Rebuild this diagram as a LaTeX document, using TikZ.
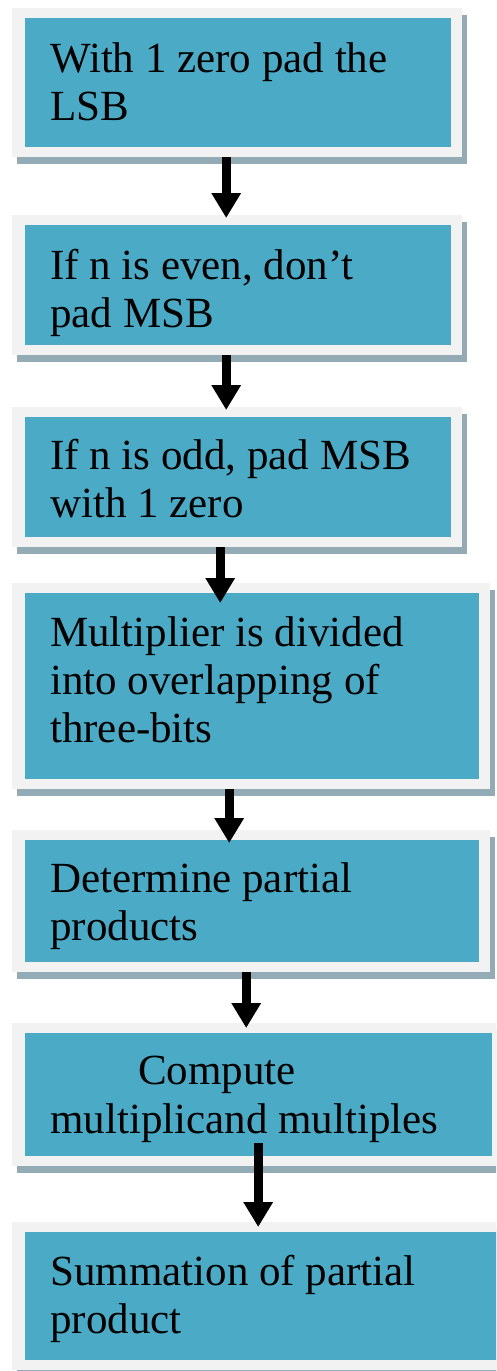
\documentclass[tikz,border=0pt]{standalone}
\usepackage{fontspec}
\setmainfont{Liberation Serif}
\usetikzlibrary{arrows.meta,shadows}
\definecolor{boxfill}{HTML}{4BAAC5}
\definecolor{framefill}{HTML}{F2F2F2}
\definecolor{shadowfill}{HTML}{93ABB5}
\tikzset{
  stepbox/.style={rectangle, anchor=north west, inner sep=0pt, draw=none,
    fill=framefill,
    drop shadow={shadow xshift=5pt, shadow yshift=-7pt, fill=shadowfill, opacity=1},
    path picture={\fill[boxfill]
      ([shift={(13pt,-10pt)}]path picture bounding box.north west) rectangle
      ([shift={(-11pt,10pt)}]path picture bounding box.south east);}},
  % multi-line labels are placed by the baseline of their last line
  steptext/.style={anchor=base west, inner sep=0pt, align=left,
    font=\fontsize{43}{48}\selectfont},
  flow/.style={line width=9pt, line cap=butt,
    -{Triangle[width=28pt,length=25pt]}},
}
\begin{document}
\begin{tikzpicture}[x=1pt,y=-1pt]
\useasboundingbox (0,0) rectangle (496,1371);
\clip (0,0) rectangle (496,1371);

% process steps
\node[stepbox, minimum width=450pt, minimum height=149pt] (b1) at (12,8) {};
\node[stepbox, minimum width=450pt, minimum height=140pt] (b2) at (12,215) {};
\node[stepbox, minimum width=450pt, minimum height=140pt] (b3) at (12,407) {};
\node[stepbox, minimum width=478pt, minimum height=206pt] (b4) at (12,583) {};
\node[stepbox, minimum width=478pt, minimum height=142pt] (b5) at (12,830) {};
\node[stepbox, minimum width=491pt, minimum height=143pt] (b6) at (12,1023) {};
\node[stepbox, minimum width=520pt, minimum height=148pt] (b7) at (12,1222) {};

% step labels
\node[steptext] (t1) at (50,120) {With 1 zero pad the\\LSB};
\node[steptext] (t2) at (50,327) {If n is even, don’t\\pad MSB};
\node[steptext] (t3) at (50,517) {If n is odd, pad MSB\\with 1 zero};
\node[steptext] (t4) at (50,742) {Multiplier is divided\\into overlapping of\\three-bits};
\node[steptext] (t5) at (50,940) {Determine partial\\products};
\node[steptext] (t6a) at (138,1084) {Compute};
\node[steptext] (t6b) at (50,1133) {multiplicand multiples};
\node[steptext] (t7) at (50,1333) {Summation of partial\\product};

% flow arrows
\draw[flow] ([xshift=-11pt]b1.south) -- ([xshift=-11pt,yshift=-3pt]b2.north);
\draw[flow] ([xshift=-11pt]b2.south) -- ([xshift=-11pt,yshift=-3pt]b3.north);
\draw[flow] ([xshift=-17pt]b3.south) -- ([xshift=-31pt,yshift=-20pt]b4.north);
\draw[flow] ([xshift=-22pt]b4.south) -- ([xshift=-22pt,yshift=-13pt]b5.north);
\draw[flow] ([xshift=-5pt]b5.south) -- ([xshift=-11.5pt,yshift=-5pt]b6.north);
\draw[flow] ([xshift=0.5pt,yshift=23pt]b6.south) -- ([xshift=-14pt,yshift=-5pt]b7.north);
\end{tikzpicture}
\end{document}
